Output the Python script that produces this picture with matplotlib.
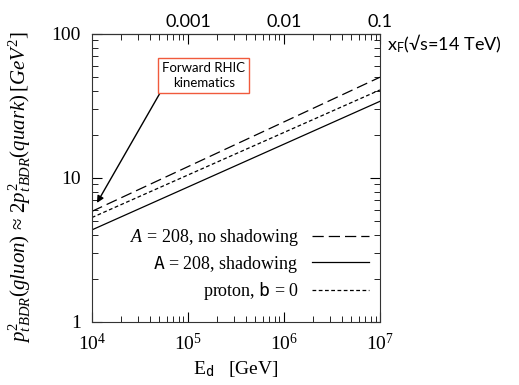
import numpy as np
import matplotlib
matplotlib.use('Agg')
from matplotlib import pyplot as plt
from matplotlib.ticker import LogLocator, NullFormatter, FixedLocator, FixedFormatter

plt.rcParams['font.family'] = 'Liberation Serif'
plt.rcParams['mathtext.fontset'] = 'custom'
plt.rcParams['mathtext.rm'] = 'Liberation Serif'
plt.rcParams['mathtext.it'] = 'Liberation Serif:italic'
plt.rcParams['mathtext.tt'] = 'DejaVu Sans Mono'
plt.rcParams['mathtext.sf'] = 'Lato'

# data (straight lines on log-log axes)
E_d = [1e4, 1e7]
pt2_noshadow = [5.85, 50.0]
pt2_shadow = [4.35, 34.0]
pt2_proton = [5.3, 40.8]

labels = [r'$A$ = 208, no shadowing', r'$\mathtt{A}$ = 208, shadowing', r'proton, $\mathtt{b}$ = 0']

xf_ticks = [0.001, 0.01, 0.1]
xf_labels = ['0.001', '0.01', '0.1']
xf_scale = 1e8  # E_d at x_F = 1

arrow_tip = (1.13e4, 6.7)

def main():
    fig = plt.figure(figsize=(5.19, 3.85), dpi=100)
    ax = fig.add_axes([0.177, 0.164, 0.555, 0.748])

    ax.plot(E_d, pt2_noshadow, color='k', lw=0.9, dashes=(9, 4), label=labels[0])
    ax.plot(E_d, pt2_shadow, color='k', lw=0.9, label=labels[1])
    ax.plot(E_d, pt2_proton, color='k', lw=0.9, dashes=(3, 2), label=labels[2])

    ax.set_xscale('log')
    ax.set_yscale('log')
    ax.set_xlim(1e4, 1e7)
    ax.set_ylim(1, 100)
    ax.set_yticks([1, 10, 100])
    ax.set_yticklabels(['1', '10', '100'])
    ax.xaxis.set_minor_locator(LogLocator(base=10, subs=np.arange(2, 10)))
    ax.xaxis.set_minor_formatter(NullFormatter())
    ax.yaxis.set_minor_locator(LogLocator(base=10, subs=np.arange(2, 10)))
    ax.yaxis.set_minor_formatter(NullFormatter())
    ax.tick_params(which='both', direction='in', right=True, labelsize=14)
    ax.tick_params(which='major', length=7)
    ax.tick_params(which='minor', length=4)
    ax.tick_params(axis='x', pad=8)
    ax.tick_params(axis='y', pad=8)
    for s in ax.spines.values():
        s.set_color('#333333')

    ax.set_xlabel(r'E$_\mathtt{d}$   [GeV]', fontsize=14)
    ax.xaxis.set_label_coords(0.5, -0.13)
    ax.set_ylabel(r'$p^2_{t\,BDR}(gluon)\,\approx\,2p^2_{t\,BDR}(quark)\,[GeV^2]$',
                  fontsize=15)
    ax.yaxis.set_label_coords(-0.205, 0.469)

    # top axis: x_F
    top = ax.secondary_xaxis('top', functions=(lambda e: e / xf_scale, lambda x: x * xf_scale))
    top.set_xscale('log')
    top.xaxis.set_major_locator(FixedLocator(xf_ticks))
    top.xaxis.set_major_formatter(FixedFormatter(xf_labels))
    top.xaxis.set_minor_locator(LogLocator(base=10, subs=np.arange(2, 10)))
    top.xaxis.set_minor_formatter(NullFormatter())
    top.tick_params(which='both', direction='in', labelsize=13, pad=3)
    top.tick_params(which='major', length=7)
    top.tick_params(which='minor', length=4)
    for t in top.get_xticklabels():
        t.set_family('Lato')
    fig.text(0.745, 0.885, r'x$_\mathsf{F}$(√s=14 TeV)', fontsize=13,
             family=['Lato', 'DejaVu Sans'], va='center', ha='left')

    ax.legend(loc='lower right', bbox_to_anchor=(1.02, 0.012), frameon=False,
              markerfirst=False, handlelength=3.2, handletextpad=0.7,
              labelspacing=0.3, fontsize=13)

    ax.annotate('Forward RHIC\nkinematics', xy=arrow_tip, xytext=(0.389, 0.856),
                textcoords='axes fraction', ha='center', va='center', fontsize=9.5,
                family='Lato', linespacing=1.3,
                bbox=dict(boxstyle='square,pad=0.3', fc='white', ec='#f05a3c', lw=1),
                arrowprops=dict(arrowstyle='-|>', color='k', lw=1, shrinkA=0, shrinkB=0,
                                mutation_scale=10, relpos=(0.0, 0.0)))

    fig.savefig('out.png', dpi=100)

main()
